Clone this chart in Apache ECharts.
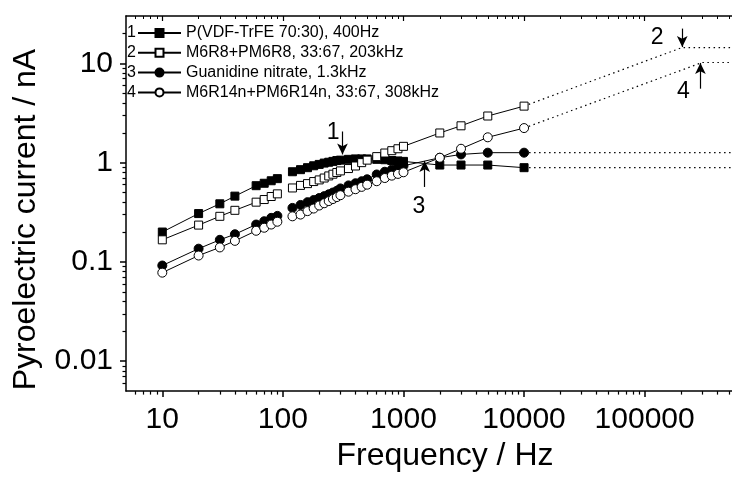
<!DOCTYPE html>
<html><head><meta charset="utf-8">
<script src="https://cdn.jsdelivr.net/npm/echarts@6/dist/echarts.min.js"></script>
<style>html,body{margin:0;padding:0;background:#fff}#c{width:732px;height:477px}</style>
</head><body><div id="c"></div>
<script>
// ---- data ----
const seriesNames = [
  'P(VDF-TrFE 70:30), 400Hz',
  'M6R8+PM6R8, 33:67, 203kHz',
  'Guanidine nitrate, 1.3kHz',
  'M6R14n+PM6R14n, 33:67, 308kHz'
];
const seriesNumbers = ['1', '2', '3', '4'];
const freqLow = [10, 20, 30, 40, 60, 70, 80, 90];
const freqHigh = [120, 140, 160, 180, 200, 220, 240, 260, 280, 300, 350, 400, 450, 500, 600, 700, 800, 900, 1000, 2000, 3000, 5000, 10000];

const s1Low  = [0.20, 0.307, 0.385, 0.46, 0.586, 0.62, 0.657, 0.69];
const s1High = [0.81, 0.85, 0.89, 0.93, 0.96, 0.99, 1.01, 1.03, 1.05, 1.06, 1.08, 1.09, 1.09, 1.09, 1.08, 1.07, 1.05, 1.04, 1.03, 0.946, 0.946, 0.946, 0.89];

const s2Low  = [0.167, 0.235, 0.288, 0.331, 0.40, 0.425, 0.456, 0.485];
const s2High = [0.556, 0.59, 0.615, 0.645, 0.67, 0.70, 0.735, 0.765, 0.796, 0.826, 0.872, 0.925, 1.0, 1.06, 1.15, 1.25, 1.32, 1.38, 1.46, 1.99, 2.35, 2.95, 3.71];

const s3Low  = [0.092, 0.136, 0.167, 0.19, 0.238, 0.257, 0.278, 0.291];
const s3High = [0.35, 0.375, 0.40, 0.42, 0.44, 0.46, 0.48, 0.50, 0.52, 0.55, 0.59, 0.62, 0.65, 0.68, 0.76, 0.81, 0.85, 0.89, 0.93, 1.12, 1.21, 1.26, 1.26];

const s4Low  = [0.078, 0.116, 0.14, 0.163, 0.206, 0.221, 0.238, 0.254];
const s4High = [0.288, 0.30, 0.325, 0.345, 0.37, 0.39, 0.41, 0.43, 0.45, 0.47, 0.51, 0.54, 0.57, 0.60, 0.65, 0.70, 0.74, 0.77, 0.80, 1.12, 1.38, 1.80, 2.23];

// extrapolated peak (dotted), null = flat continuation
const peakFreq  = [null, 203000, null, 300000];
const peakValue = [null, 14.4, null, 10.2];

// annotation labels and arrows: [label, labelFreq, labelValue, arrowFreq, arrowFromValue, arrowToValue]
const annotations = [
  ['1', 261, 2.0, 312, 2.06, 1.21],
  ['2', 127000, 18.1, 205000, 22.4, 14.6],
  ['3', 1340, 0.36, 1500, 0.569, 1.04],
  ['4', 210000, 5.14, 290000, 5.56, 10.1]
];

const xTickValues = [10, 100, 1000, 10000, 100000];
const yTickValues = [0.01, 0.1, 1, 10];
const xMin = 5, xMax = 530000, yMin = 0.005, yMax = 30;

// ---- build ----
function minorList(lo, hi) {
  const out = [];
  for (let d = lo; d <= hi; d *= 10) for (let k = 2; k <= 9; k++) out.push(+(k * d).toPrecision(3));
  return out;
}
const xMinor = minorList(1, 100000).filter(v => v > xMin && v < xMax);
const yMinor = minorList(0.001, 10).filter(v => v > yMin && v < yMax);

const lowSets = [s1Low, s2Low, s3Low, s4Low];
const highSets = [s1High, s2High, s3High, s4High];
const symbols = ['rect', 'rect', 'circle', 'circle'];
const filled = [true, false, true, false];
const symSizes = [8, 8, 9, 9];

const FONT = 'Liberation Sans';
const series = [];
seriesNames.forEach((name, i) => {
  const data = freqLow.map((f, j) => [f, lowSets[i][j]]);
  data.push([105, '-']);
  freqHigh.forEach((f, j) => data.push([f, highSets[i][j]]));
  series.push({
    name, type: 'line', data, xAxisIndex: 0, yAxisIndex: 0,
    symbol: symbols[i], symbolSize: symSizes[i], showAllSymbol: true,
    connectNulls: false, z: 3 + i,
    lineStyle: { color: '#000', width: 1 },
    itemStyle: { color: filled[i] ? '#000' : '#fff', borderColor: '#000', borderWidth: 1 },
    emphasis: { disabled: true }, animation: false
  });
});
// dotted extrapolations
seriesNames.forEach((name, i) => {
  const last = [freqHigh[freqHigh.length - 1], highSets[i][highSets[i].length - 1]];
  const pts = [last];
  let endVal = last[1];
  if (peakFreq[i] !== null) { pts.push([peakFreq[i], peakValue[i]]); endVal = peakValue[i]; }
  pts.push([xMax, endVal]);
  series.push({
    name: 'extrap' + i, type: 'line', data: pts, symbol: 'none', z: 2,
    lineStyle: { color: '#000', width: 1.2, type: [1.5, 3.5] },
    emphasis: { disabled: true }, animation: false, silent: true
  });
});
// annotations
series.push({
  name: 'annot', type: 'scatter', symbolSize: 0, silent: true, animation: false,
  itemStyle: { opacity: 1 },
  data: annotations.map(a => ({ value: [a[1], a[2]], label: { show: true, formatter: a[0] } })),
  label: { position: 'inside', color: '#000', opacity: 1, fontSize: 23, fontFamily: FONT },
  markLine: {
    silent: true, animation: false, symbol: ['none', 'arrow'], symbolSize: [8, 11],
    lineStyle: { color: '#000', width: 1.2, type: 'solid', opacity: 1 }, label: { show: false },
    data: annotations.map(a => [{ coord: [a[3], a[4]] }, { coord: [a[3], a[5]] }])
  }
});

const axisLine = { show: true, lineStyle: { color: '#000', width: 1.5 } };
const option = {
  animation: false,
  backgroundColor: '#fff',
  textStyle: { fontFamily: FONT },
  grid: { left: 126, top: 16, right: 0, bottom: 85, containLabel: false },
  legend: [{
    data: seriesNames, orient: 'vertical', left: 132, top: 20, itemWidth: 43, itemHeight: 10, itemGap: 3.8,
    textStyle: { fontSize: 16, color: '#000', fontFamily: FONT }, selectedMode: false
  }, {
    data: seriesNames, orient: 'vertical', left: 117, top: 20, itemWidth: 0, itemHeight: 10, itemGap: 3.8, icon: 'none',
    formatter: n => seriesNumbers[seriesNames.indexOf(n)],
    textStyle: { fontSize: 16, color: '#000', fontFamily: FONT }, selectedMode: false
  }],
  xAxis: [{
    type: 'log', min: xMin, max: xMax, position: 'bottom',
    name: 'Frequency / Hz', nameLocation: 'middle', nameGap: 45,
    nameTextStyle: { fontSize: 32, color: '#000', fontFamily: FONT, padding: [0, 0, 0, 32] },
    axisLine, splitLine: { show: false },
    axisTick: { show: true, inside: false, length: 6, lineStyle: { color: '#000', width: 1.5 }, customValues: xTickValues },
    axisLabel: { show: true, fontSize: 30, color: '#000', margin: 14, fontFamily: FONT, customValues: xTickValues, formatter: v => String(v) }
  }, {
    type: 'log', min: xMin, max: xMax, position: 'bottom',
    axisLine: { show: false }, splitLine: { show: false }, axisLabel: { show: false },
    axisTick: { show: true, inside: false, length: 3.5, lineStyle: { color: '#000', width: 1.2 }, customValues: xMinor }
  }, {
    type: 'log', min: xMin, max: xMax, position: 'top',
    axisLine, splitLine: { show: false }, axisLabel: { show: false },
    axisTick: { show: true, inside: true, length: 5, lineStyle: { color: '#000', width: 1.2 }, customValues: xTickValues }
  }, {
    type: 'log', min: xMin, max: xMax, position: 'top',
    axisLine: { show: false }, splitLine: { show: false }, axisLabel: { show: false },
    axisTick: { show: true, inside: true, length: 3, lineStyle: { color: '#000', width: 1 }, customValues: xMinor }
  }],
  yAxis: [{
    type: 'log', min: yMin, max: yMax, position: 'left',
    name: 'Pyroelectric current / nA', nameLocation: 'middle', nameGap: 84, nameRotate: 90,
    nameTextStyle: { fontSize: 32, color: '#000', fontFamily: FONT, padding: [0, 32, 0, 0] },
    axisLine, splitLine: { show: false },
    axisTick: { show: true, inside: false, length: 6, lineStyle: { color: '#000', width: 1.5 }, customValues: yTickValues },
    axisLabel: { show: true, fontSize: 30, color: '#000', margin: 13, fontFamily: FONT, customValues: yTickValues, formatter: v => String(v) }
  }, {
    type: 'log', min: yMin, max: yMax, position: 'left',
    axisLine: { show: false }, splitLine: { show: false }, axisLabel: { show: false },
    axisTick: { show: true, inside: false, length: 3.5, lineStyle: { color: '#000', width: 1.2 }, customValues: yMinor }
  }],
  series
};
const chart = echarts.init(document.getElementById('c'), null, { renderer: 'canvas' });
chart.setOption(option);
</script>
</body></html>
